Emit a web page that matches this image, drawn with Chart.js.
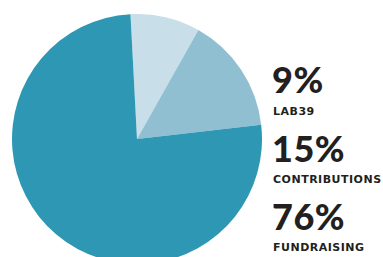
<!DOCTYPE html>
<html>
<head>
<meta charset="utf-8">
<script src="https://cdn.jsdelivr.net/npm/chart.js@4"></script>
<style>
  html, body { margin: 0; padding: 0; background: #fff; }
  body { width: 383px; height: 257px; overflow: hidden; position: relative; }
  #wrap { position: absolute; left: 12px; top: 14px; width: 250px; height: 250px; }
  .pct, .lbl { position: absolute; left: 272px; color: #231f20; white-space: nowrap; line-height: 1; }
  .pct { font-family: Lato, sans-serif; font-size: 36px; font-weight: 900; letter-spacing: 0.5px; }
  .lbl { font-family: "DejaVu Sans", sans-serif; font-size: 11px; font-weight: 700; left: 273px; letter-spacing: 0.5px; }
</style>
</head>
<body>
<div id="wrap"><canvas id="grafico" width="250" height="250"></canvas></div>
<div id="legenda"></div>
<script>
const categorias = ["LAB39", "CONTRIBUTIONS", "FUNDRAISING"];
const valores = [9, 15, 76];
const cores = ["#c8dee8", "#90bfd1", "#2e98b4"];

const legenda = document.getElementById("legenda");
categorias.forEach((nome, i) => {
  const pct = document.createElement("div");
  pct.className = "pct";
  pct.style.top = (61 + i * 68.5) + "px";
  pct.textContent = valores[i] + "%";
  legenda.appendChild(pct);

  const lbl = document.createElement("div");
  lbl.className = "lbl";
  lbl.style.top = (106 + i * 68) + "px";
  lbl.textContent = nome;
  legenda.appendChild(lbl);
});

new Chart(document.getElementById("grafico"), {
  type: "pie",
  data: {
    labels: categorias,
    datasets: [{
      data: valores,
      backgroundColor: cores,
      borderWidth: 0
    }]
  },
  options: {
    responsive: false,
    animation: false,
    rotation: -3,
    layout: { padding: 0 },
    plugins: {
      legend: { display: false },
      tooltip: { enabled: false }
    }
  }
});
</script>
</body>
</html>
